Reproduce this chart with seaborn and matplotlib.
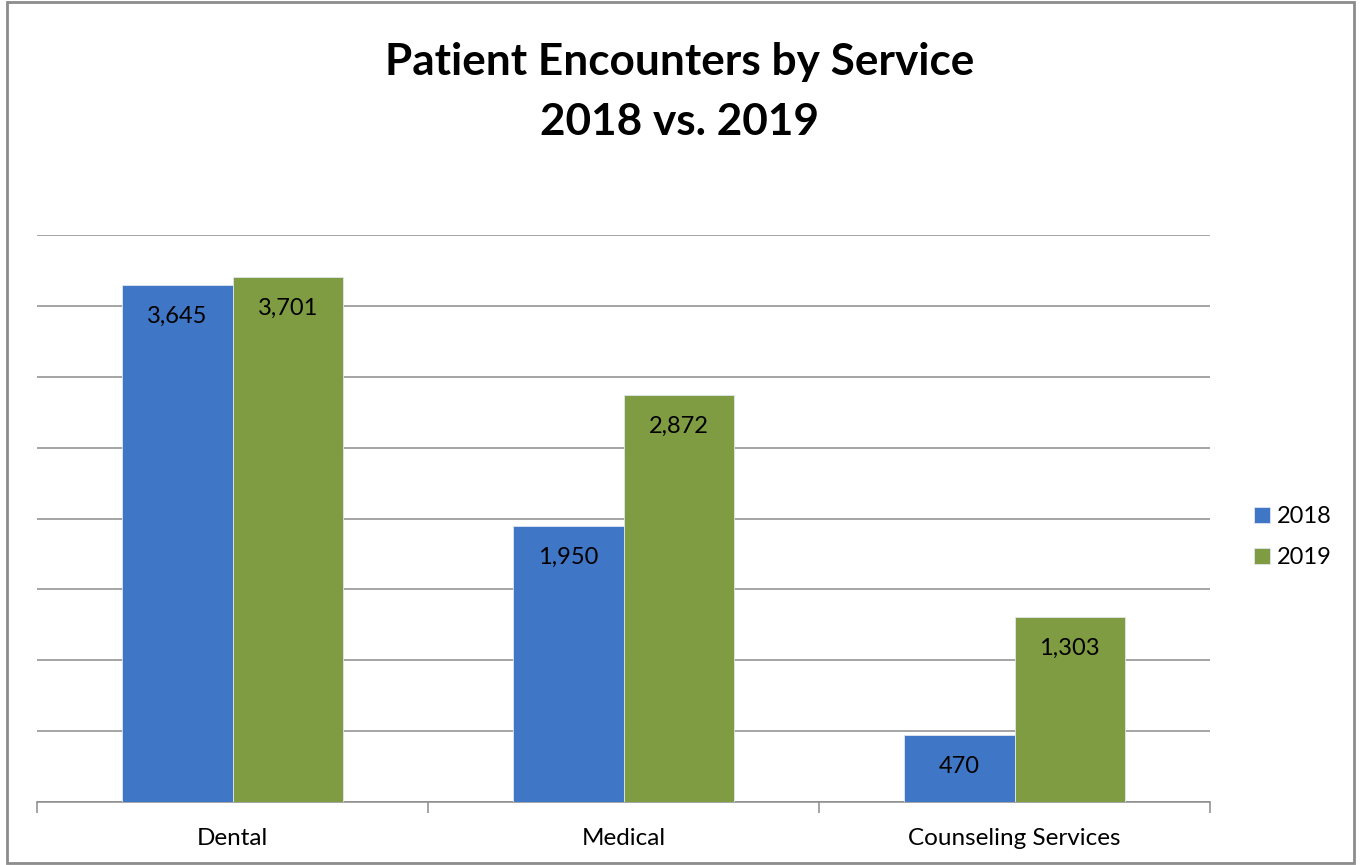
import matplotlib
matplotlib.use("Agg")
import matplotlib.pyplot as plt
import seaborn as sns
import pandas as pd
from matplotlib.patches import Rectangle

categories = ["Dental", "Medical", "Counseling Services"]
years = ["2018", "2019"]
values_2018 = [3645, 1950, 470]
values_2019 = [3701, 2872, 1303]
y_max = 4000
y_step = 500

df = pd.DataFrame({
    "Service": categories * 2,
    "Year": [years[0]] * 3 + [years[1]] * 3,
    "Encounters": values_2018 + values_2019,
})

sns.set_theme(style="white")
plt.rcParams["font.family"] = ["Lato", "DejaVu Sans"]

fig = plt.figure(figsize=(13.6, 8.65), dpi=100)
ax = fig.add_axes([37 / 1360, 1 - 802 / 865, (1210 - 37) / 1360, (802 - 235) / 865])

palette = {"2018": "#3F77C6", "2019": "#7F9C43"}
sns.barplot(data=df, x="Service", y="Encounters", hue="Year", order=categories,
            hue_order=years, palette=palette, width=0.565, saturation=1,
            edgecolor="#dfe6ee", linewidth=0.6, ax=ax, zorder=3)

for cont in ax.containers:
    for p in cont:
        h = p.get_height()
        ax.annotate(f"{int(round(h)):,}", (p.get_x() + p.get_width() / 2, h),
                    xytext=(0, -15), textcoords="offset points",
                    ha="center", va="top", fontsize=17, color="black", zorder=5)

ax.set_ylim(0, y_max)
ax.set_xlim(-0.5, 2.5)
ax.set_yticks(range(0, y_max + 1, y_step))
ax.set_yticklabels([])
ax.tick_params(axis="y", length=0)
ax.grid(axis="y", color="#8C8C8C", linewidth=1.1, zorder=0)
ax.grid(axis="x", visible=False)
for s in ["top", "right", "left"]:
    ax.spines[s].set_visible(False)
ax.spines["bottom"].set_color("#8C8C8C")
ax.spines["bottom"].set_linewidth(1.1)

ax.set_xticks(range(len(categories)))
ax.set_xticklabels(categories, fontsize=17.5, color="black")
ax.tick_params(axis="x", which="major", length=0, pad=19)
ax.set_xticks([-0.5, 0.5, 1.5, 2.5], minor=True)
ax.tick_params(axis="x", which="minor", length=8, width=1.1, color="#8C8C8C", bottom=True)
ax.set_xlabel("")
ax.set_ylabel("")

ax.legend(loc="center left", frameon=False,
          fontsize=17, handlelength=0.65, handleheight=0.65, handletextpad=0.3,
          labelspacing=0.85, labelcolor="black")
ax.get_legend().set_bbox_to_anchor((1233 / 1360, 1 - 537 / 865), transform=fig.transFigure)

fig.text(0.5, 1 - 62 / 865, "Patient Encounters by Service", ha="center", va="center",
         fontsize=31.8, fontweight="bold", color="black")
fig.text(0.5, 1 - 122 / 865, "2018 vs. 2019", ha="center", va="center",
         fontsize=31.8, fontweight="bold", color="black")

fig.patches.append(Rectangle((7 / 1360, 2 / 865), 1347 / 1360, 861 / 865,
                             transform=fig.transFigure, fill=False,
                             edgecolor="#8C8C8C", linewidth=2))

fig.savefig("out.png", dpi=100)
